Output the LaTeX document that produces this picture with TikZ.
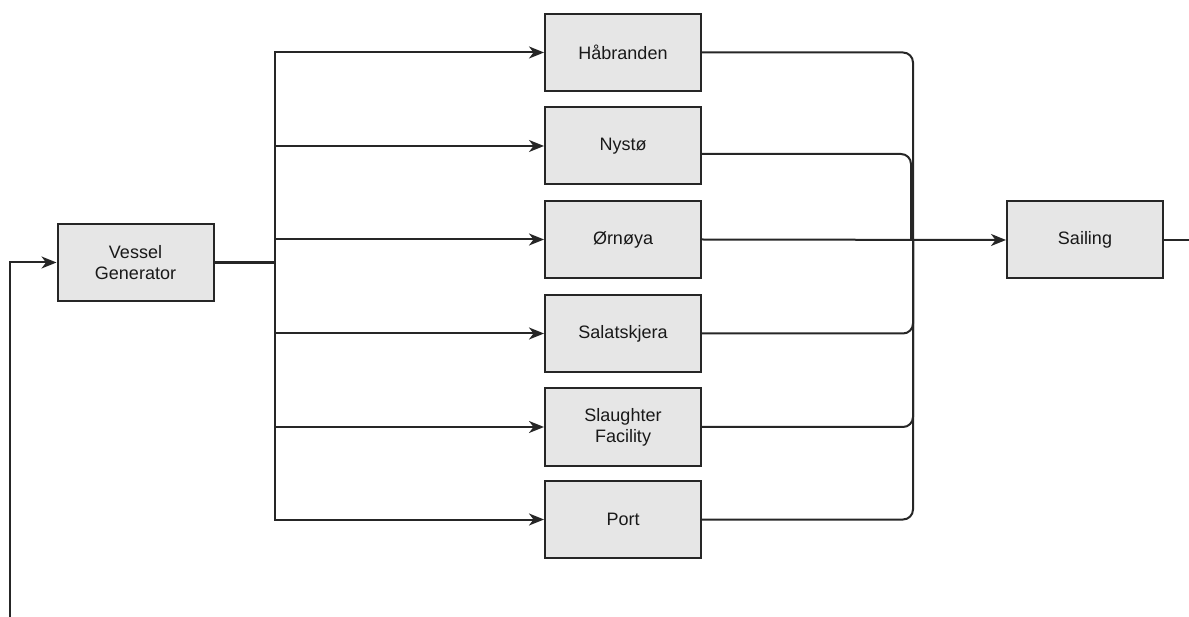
\documentclass[tikz,border=0pt]{standalone}
\usepackage{fontspec}
\setmainfont{Liberation Sans}
\usetikzlibrary{arrows.meta}
\definecolor{boxfill}{HTML}{E6E6E6}
\definecolor{linec}{HTML}{262626}
\begin{document}
\begin{tikzpicture}[x=1pt,y=-1pt,
  blk/.style={draw=linec,line width=2pt,fill=boxfill,minimum width=156pt,minimum height=77pt,inner sep=0pt,align=center,font=\fontsize{18}{21}\selectfont,text=black!90},
  conn/.style={draw=linec,line width=2pt},
  arr/.style={conn,-{Stealth[length=15pt,width=12pt,inset=4.5pt]}}]
\useasboundingbox (0,0) rectangle (1189,617);
\node[blk] (vg) at (135.5,262.5) {Vessel\\Generator};
\node[blk] (hab) at (623,52.5) {Håbranden};
\node[blk] (nys) at (623,146) {Nystø};
\node[blk] (orn) at (623,239.5) {Ørnøya};
\node[blk] (sal) at (623,333.5) {Salatskjera};
\node[blk] (sla) at (623,427) {Slaughter\\Facility};
\node[blk] (port) at (623,519.5) {Port};
\node[blk] (sail) at (1085,240) {Sailing};
\coordinate (br) at (275,262.5);
\coordinate (fb) at (10,617);
\coordinate (mj) at (913,239.5);
\coordinate (mj2) at (911,239.5);
\coordinate (out) at (1189,240);
% feedback
\draw[arr] (fb) |- (vg.west);
% fan out
\draw[conn,line width=3pt] (vg.east) -- (br);
\foreach \n in {hab,nys,orn,sal,sla,port}{
  \draw[arr] (vg.east) -- (br) |- (\n.west);
}
% merge
\draw[conn,rounded corners=10pt] (hab.east) -| (mj);
\draw[conn,rounded corners=10pt] ([yshift=-8pt]nys.east) -| (mj2);
\draw[conn,rounded corners=10pt] (sal.east) -| (mj);
\draw[conn,rounded corners=10pt] (sla.east) -| (mj);
\draw[conn,rounded corners=10pt] (port.east) -| (mj);
\draw[arr] (orn.east) -- (sail.west);
\draw[conn] (sail.east) -- (out);
\end{tikzpicture}
\end{document}
